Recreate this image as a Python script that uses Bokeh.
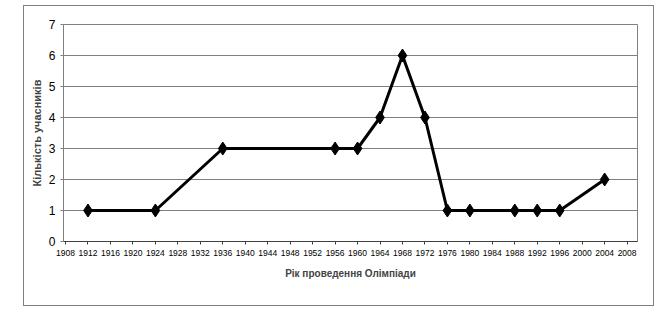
from bokeh.plotting import figure
from bokeh.models import FixedTicker, Range1d
from bokeh.embed import file_html
from bokeh.resources import INLINE

years = [1912, 1924, 1936, 1956, 1960, 1964, 1968, 1972, 1976, 1980, 1988, 1992, 1996, 2004]
counts = [1, 1, 3, 3, 3, 4, 6, 4, 1, 1, 1, 1, 1, 2]
x_ticks = list(range(1908, 2009, 4))
y_ticks = [0, 1, 2, 3, 4, 5, 6, 7]
x_title = "Рік проведення Олімпіади"
y_title = "Кількість учасників"

p = figure(width=631, height=301, output_backend="svg", toolbar_location=None,
           x_range=Range1d(1907.64, 2009.85), y_range=Range1d(0, 7),
           min_border_left=39, min_border_right=18, min_border_top=18, min_border_bottom=66)
p.margin = (5, 0, 0, 23)
p.styles = {"border": "1px solid #808080"}
p.background_fill_color = "white"
p.border_fill_color = "white"
p.outline_line_color = "#808080"
p.outline_line_width = 1

p.line(years, counts, line_color="black", line_width=3)
p.scatter(years, counts, marker="diamond", size=13, fill_color="black", line_color="black")

p.xgrid.grid_line_color = None
p.ygrid.grid_line_color = "#808080"
p.ygrid.grid_line_width = 1
p.xaxis.ticker = FixedTicker(ticks=x_ticks)
p.yaxis.ticker = FixedTicker(ticks=y_ticks)
p.xaxis.minor_tick_line_color = None
p.yaxis.minor_tick_line_color = None

font = "'Liberation Sans', Arial, sans-serif"

p.xaxis.axis_line_color = "#404040"
p.xaxis.major_tick_line_color = "#404040"
p.xaxis.major_tick_in = 0
p.xaxis.major_tick_out = 3
p.xaxis.major_label_standoff = 5
p.xaxis.major_label_text_font = font
p.xaxis.major_label_text_font_size = "8.5px"
p.xaxis.major_label_text_color = "black"
p.xaxis.axis_label = x_title
p.xaxis.axis_label_text_font = font
p.xaxis.axis_label_text_font_style = "bold"
p.xaxis.axis_label_text_font_size = "10px"
p.xaxis.axis_label_standoff = 9

p.yaxis.axis_line_color = "#808080"
p.yaxis.major_tick_line_color = "#808080"
p.yaxis.major_tick_in = 0
p.yaxis.major_tick_out = 3
p.yaxis.major_label_standoff = 5
p.yaxis.major_label_text_font = font
p.yaxis.major_label_text_font_size = "12px"
p.yaxis.major_label_text_color = "black"
p.yaxis.axis_label = y_title
p.yaxis.axis_label_text_font = font
p.yaxis.axis_label_text_font_style = "bold"
p.yaxis.axis_label_text_font_size = "11px"
p.yaxis.axis_label_standoff = 3

open("out.html", "w").write(file_html(p, INLINE))
